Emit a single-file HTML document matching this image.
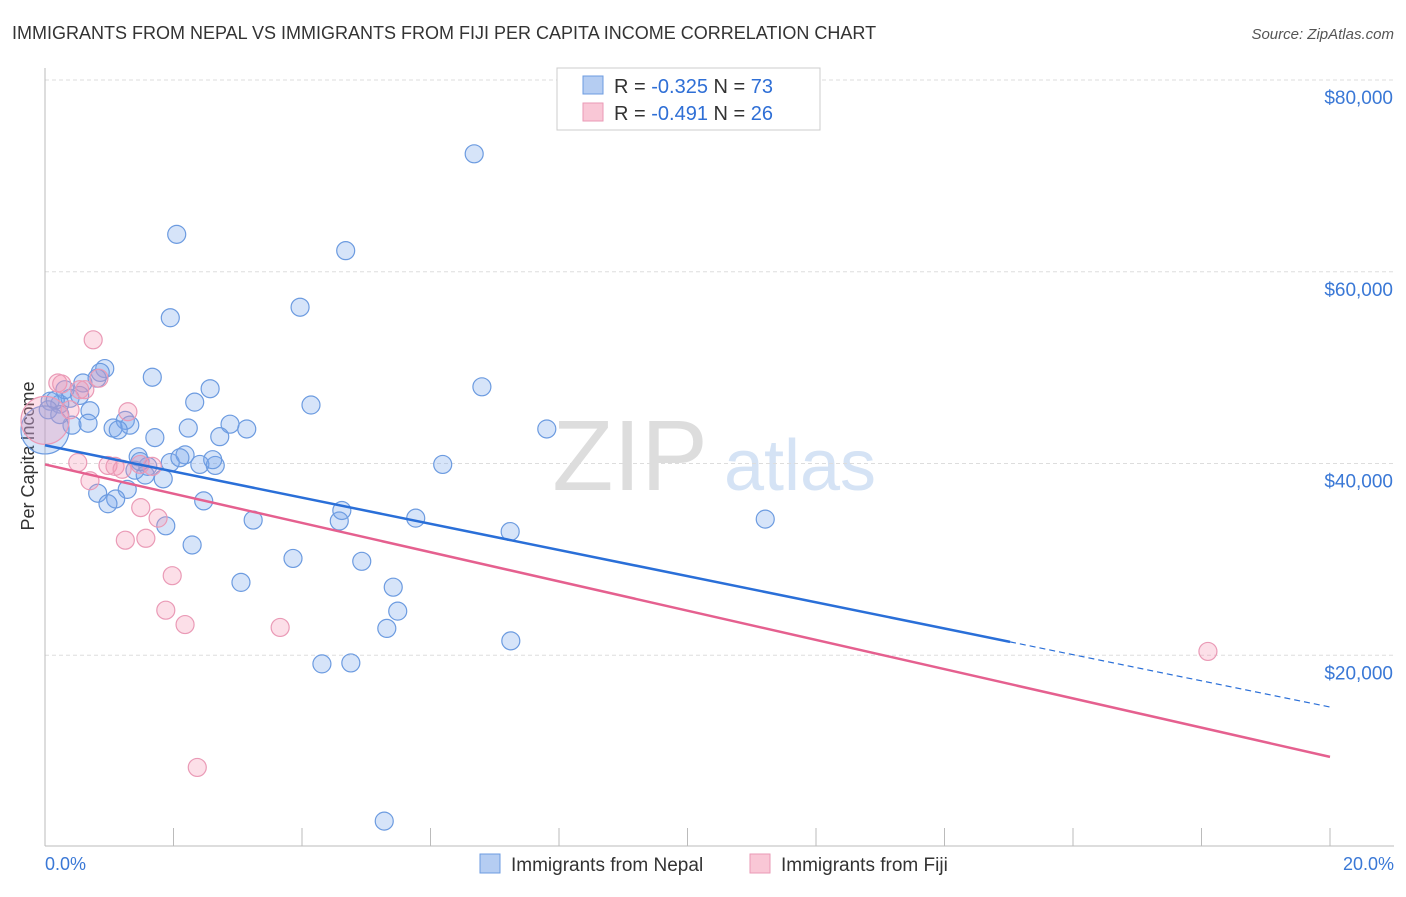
<!DOCTYPE html>
<html><head><meta charset="utf-8"><style>
body{margin:0;background:#fff;font-family:"Liberation Sans",sans-serif}
svg text{font-family:"Liberation Sans",sans-serif}
</style></head><body>
<svg id="c" width="1406" height="892">
<text x="12" y="39" font-size="18" fill="#333">IMMIGRANTS FROM NEPAL VS IMMIGRANTS FROM FIJI PER CAPITA INCOME CORRELATION CHART</text>
<text x="1394" y="39" font-size="15" fill="#555" font-style="italic" text-anchor="end">Source: ZipAtlas.com</text>
<text x="630" y="490" font-size="100" fill="#ddd" font-family="Liberation Serif" text-anchor="middle">ZIP</text>
<text x="800" y="490" font-size="72" fill="#d5e3f5" text-anchor="middle">atlas</text>
<text transform="translate(34,456) rotate(-90)" font-size="18" fill="#333" text-anchor="middle">Per Capita Income</text>
<g id="grid"></g><g id="marks"></g>
<g>
<rect x="557" y="68" width="263" height="62" fill="#fff" stroke="#ccc"/>
<rect x="583" y="76" width="20" height="18" fill="#b5cdf2" stroke="#6c9be0"/>
<rect x="583" y="103" width="20" height="18" fill="#f9c7d6" stroke="#ea9ab6"/>
<text x="614" y="93" font-size="20" fill="#333">R = <tspan fill="#2f6fd6">-0.325</tspan>   N = <tspan fill="#2f6fd6">73</tspan></text>
<text x="614" y="120" font-size="20" fill="#333">R = <tspan fill="#2f6fd6">-0.491</tspan>   N = <tspan fill="#2f6fd6">26</tspan></text>
</g>
<g>
<rect x="480" y="854" width="20" height="19" fill="#b5cdf2" stroke="#6c9be0"/>
<text x="511" y="871" font-size="19" fill="#333">Immigrants from Nepal</text>
<rect x="750" y="854" width="20" height="19" fill="#f9c7d6" stroke="#ea9ab6"/>
<text x="781" y="871" font-size="19" fill="#333">Immigrants from Fiji</text>
</g>
<text x="45" y="870" font-size="18" fill="#3a78d6">0.0%</text>
<text x="1394" y="870" font-size="18" fill="#3a78d6" text-anchor="end">20.0%</text>
</svg>
<script>
const yTicks=[20000,40000,60000,80000];
const yTickLabels=["$20,000","$40,000","$60,000","$80,000"];
const xTicks=[0,2,4,6,8,10,12,14,16,18,20];
const nepalX=[6.68,2.05,4.68,1.95,3.97,0.93,1.67,2.57,6.80,2.33,4.14,7.81,2.23,2.88,3.14,2.72,1.71,1.25,1.32,1.06,0.70,0.42,0.67,0.23,0.08,0.39,0.31,0.59,0.81,0.86,6.19,2.18,1.95,1.60,1.40,1.84,2.41,2.65,2.61,1.45,1.56,1.28,0.82,1.10,0.98,2.47,3.24,4.58,4.62,5.77,7.24,11.21,1.88,2.29,3.86,4.93,3.05,5.42,5.49,5.32,7.25,4.31,4.76,5.28,0.16,0.05,0.54,0.23,1.14,1.48,2.10,0.0];
const nepalY=[72.3,63.9,62.2,55.2,56.3,49.9,49.0,47.8,48.0,46.4,46.1,43.6,43.7,44.1,43.6,42.8,42.7,44.5,44.0,43.7,45.5,44.0,44.2,46.2,46.5,46.8,47.7,48.4,48.9,49.5,39.9,40.9,40.1,39.7,39.3,38.4,39.9,39.8,40.4,40.7,38.8,37.3,36.9,36.3,35.8,36.1,34.1,34.0,35.1,34.3,32.9,34.2,33.5,31.5,30.1,29.8,27.6,27.1,24.6,22.8,21.5,19.1,19.2,2.7,46.6,45.6,47.1,45.1,43.5,40.2,40.6,43.5];
const fijiX=[0.75,0.20,0.62,0.84,1.29,0.39,0.51,0.70,0.98,1.09,1.20,1.48,1.67,1.49,1.76,1.25,1.57,1.98,1.88,2.18,3.66,2.37,18.10,0.26,0.54,0.0];
const fijiY=[52.9,48.4,47.7,48.9,45.4,45.6,40.1,38.2,39.8,39.7,39.4,39.9,39.7,35.4,34.3,32.0,32.2,28.3,24.7,23.2,22.9,8.3,20.4,48.3,47.7,44.5];
const nepalTrend=[41.9,14.6]; // value (k$) at 0% and 20%
const fijiTrend=[39.9,9.4];
const NS="http://www.w3.org/2000/svg";
const X=v=>45+v/20*1285, Y=v=>847-v/80000*767;
function mk(t,a,p){const e=document.createElementNS(NS,t);for(const k in a)e.setAttribute(k,a[k]);p.appendChild(e);return e;}
const g=document.getElementById('grid'),m=document.getElementById('marks');
yTicks.forEach((t,i)=>{
 const l=mk('line',{x1:45,x2:1394,y1:Y(t),y2:Y(t),stroke:'#ddd','stroke-dasharray':'4,3'},g);
 
 
 const tx=mk('text',{x:1393,y:Y(t)+24,'font-size':19,fill:'#3a78d6','text-anchor':'end'},g);
 tx.textContent=yTickLabels[i];
 
 
});
mk('line',{x1:45,x2:45,y1:68,y2:846,stroke:'#bbb'},g);
mk('line',{x1:45,x2:1394,y1:846,y2:846,stroke:'#bbb'},g);
xTicks.forEach(t=>{const l=mk('line',{x1:X(t),x2:X(t),y1:828,y2:846,stroke:'#bbb'},g);
 
 });
function pts(xs,ys,fill,stroke,name){xs.forEach((x,i)=>{const big=(x===0);
 const c=mk('circle',{cx:X(x),cy:Y(ys[i]*1000),r:big?24:9,fill,stroke,'stroke-width':1.2},m);
 
 });}
pts(nepalX,nepalY,'rgba(120,165,235,0.3)','#6c9be0','nepal-point');
pts(fijiX,fijiY,'rgba(245,150,180,0.3)','#ea9ab6','fiji-point');
const tv=(tr,x)=>tr[0]+(tr[1]-tr[0])*x/20;
let l=mk('line',{x1:X(0),y1:Y(tv(nepalTrend,0)*1000),x2:X(15.02),y2:Y(tv(nepalTrend,15.02)*1000),stroke:'#2a6fd8','stroke-width':2.5},m);


l=mk('line',{x1:X(15.02),y1:Y(tv(nepalTrend,15.02)*1000),x2:X(20),y2:Y(tv(nepalTrend,20)*1000),stroke:'#2a6fd8','stroke-width':1.2,'stroke-dasharray':'6,4'},m);


l=mk('line',{x1:X(0),y1:Y(tv(fijiTrend,0)*1000),x2:X(20),y2:Y(tv(fijiTrend,20)*1000),stroke:'#e5608f','stroke-width':2.5},m);


</script>
</body></html>
